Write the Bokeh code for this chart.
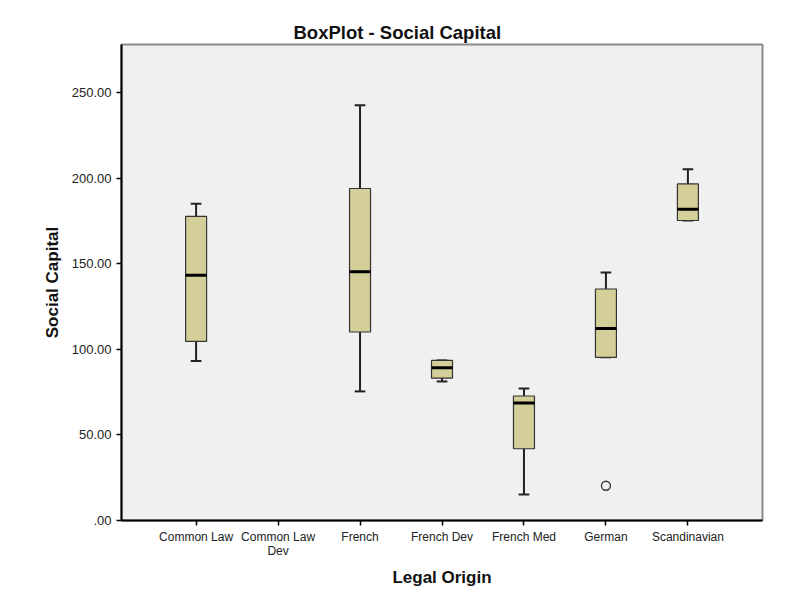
from bokeh.plotting import figure
from bokeh.models import FactorRange, FixedTicker, ColumnDataSource
from bokeh.transform import dodge
from bokeh.embed import file_html
from bokeh.resources import INLINE

categories = ["Common Law", "Common Law\nDev", "French", "French Dev",
              "French Med", "German", "Scandinavian"]

box_cats = ["Common Law", "French", "French Dev", "French Med", "German", "Scandinavian"]
w_low = [93.2, 75.4, 81.2, 15.2, 95.3, 175.2]
q1 = [104.6, 110.1, 83.2, 41.9, 95.3, 175.2]
median = [143.2, 145.3, 89.2, 68.6, 112.2, 181.8]
q3 = [177.6, 193.9, 93.5, 72.7, 135.2, 196.6]
w_high = [185.0, 242.5, 93.5, 77.1, 144.8, 205.1]

out_cats = ["German"]
out_vals = [20.3]

y_ticks = [0, 50, 100, 150, 200, 250]
y_tick_labels = [".00", "50.00", "100.00", "150.00", "200.00", "250.00"]

FONT = "Liberation Sans"

p = figure(
    width=778, height=592,
    x_range=FactorRange(factors=categories, range_padding=0.41,
                        range_padding_units="absolute"),
    y_range=(0, 278),
    output_backend="svg", toolbar_location=None,
    title="BoxPlot - Social Capital",
    min_border_left=121, min_border_right=16,
    min_border_top=44, min_border_bottom=72,
)

p.background_fill_color = "#F0F0F0"
p.border_fill_color = "white"
p.outline_line_color = "#8C8C8C"
p.outline_line_width = 2
p.xgrid.visible = False
p.ygrid.visible = False

p.title.align = "left"
p.title.offset = 172
p.title.text_font = FONT
p.title.text_font_size = "18.5px"
p.title.text_font_style = "bold"
p.title.text_color = "#111111"
p.title.standoff = 4

src = ColumnDataSource(dict(cat=box_cats, lo=w_low, q1=q1, med=median, q3=q3, hi=w_high))

# whisker stems
p.segment(x0="cat", y0="lo", x1="cat", y1="hi", source=src, line_color="#222222", line_width=2)
# caps
p.segment(x0=dodge("cat", -0.065, range=p.x_range), y0="hi",
          x1=dodge("cat", 0.065, range=p.x_range), y1="hi",
          source=src, line_color="#222222", line_width=2)
p.segment(x0=dodge("cat", -0.065, range=p.x_range), y0="lo",
          x1=dodge("cat", 0.065, range=p.x_range), y1="lo",
          source=src, line_color="#222222", line_width=2)
# boxes
p.vbar(x="cat", top="q3", bottom="q1", width=0.256, source=src,
       fill_color="#D4CF98", line_color="#333333", line_width=1.2)
# medians
p.segment(x0=dodge("cat", -0.128, range=p.x_range), y0="med",
          x1=dodge("cat", 0.128, range=p.x_range), y1="med",
          source=src, line_color="#000000", line_width=3)

# outliers
p.scatter(x=out_cats, y=out_vals, size=9, marker="circle",
          fill_color="#F0F0F0", line_color="#333333", line_width=1.3)

# axes
p.yaxis.ticker = FixedTicker(ticks=y_ticks)
p.yaxis.major_label_overrides = {t: l for t, l in zip(y_ticks, y_tick_labels)}
p.yaxis.minor_tick_line_color = None
for ax in (p.xaxis[0], p.yaxis[0]):
    ax.axis_line_color = "#000000"
    ax.axis_line_width = 2
    ax.major_tick_line_color = "#000000"
    ax.major_tick_line_width = 1.5
    ax.major_tick_out = 5
    ax.major_tick_in = 0
    ax.major_label_text_font = FONT
    ax.major_label_text_color = "#222222"
    ax.axis_label_text_font = FONT
    ax.axis_label_text_font_style = "bold"
    ax.axis_label_text_font_size = "17px"
    ax.axis_label_text_color = "#111111"

p.yaxis.major_label_text_font_size = "13px"
p.xaxis.major_label_text_font_size = "12px"
p.xaxis.major_label_standoff = 4
p.xaxis.major_label_text_line_height = 1.0
p.yaxis.axis_label = "Social Capital"
p.xaxis.axis_label = "Legal Origin"
p.xaxis.axis_label_standoff = 7
p.yaxis.axis_label_standoff = 7

open("out.html", "w").write(file_html(p, INLINE))
